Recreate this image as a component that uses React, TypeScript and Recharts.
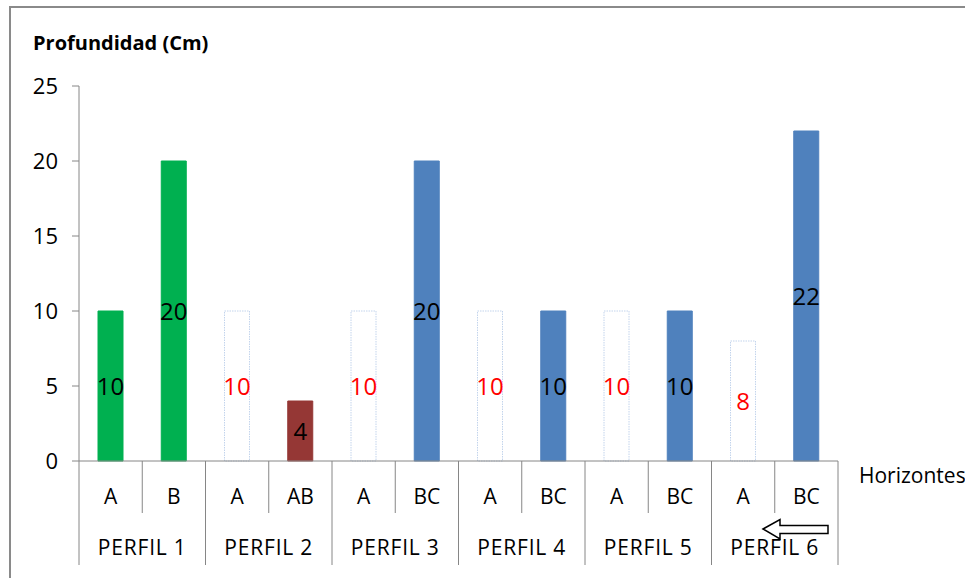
import React from 'react';
import { BarChart, Bar, XAxis, YAxis, Cell, LabelList } from 'recharts';

const horizontes = ['A', 'B', 'A', 'AB', 'A', 'BC', 'A', 'BC', 'A', 'BC', 'A', 'BC'];
const perfiles = ['PERFIL 1', 'PERFIL 2', 'PERFIL 3', 'PERFIL 4', 'PERFIL 5', 'PERFIL 6'];
const profundidad = [10, 20, 10, 4, 10, 20, 10, 10, 10, 10, 8, 22];
const tipoBarra = ['verde', 'verde', 'vacia', 'rojo', 'vacia', 'azul', 'vacia', 'azul', 'vacia', 'azul', 'vacia', 'azul'];
const yTicks = [0, 5, 10, 15, 20, 25];

const estilos: Record<string, { fill: string; stroke: string; dash?: string; label: string }> = {
  verde: { fill: '#00B050', stroke: '#00B050', label: '#000000' },
  rojo: { fill: '#953735', stroke: '#953735', label: '#000000' },
  azul: { fill: '#4F81BD', stroke: '#4F81BD', label: '#000000' },
  vacia: { fill: '#FFFFFF', stroke: '#C3D4EC', dash: '1.5 1', label: '#FF0000' },
};

const data = horizontes.map((h, i) => ({
  key: `${i}`,
  horizonte: h,
  perfil: perfiles[Math.floor(i / 2)],
  valor: profundidad[i],
  tipo: tipoBarra[i],
}));

const FONT = '"Open Sans", sans-serif';
const AXIS = '#868686';
const W = 965;
const H = 578;
const PLOT_LEFT = 79;
const PLOT_RIGHT = 838;
const PLOT_TOP = 86;
const PLOT_BOTTOM = 461;
const BAND = (PLOT_RIGHT - PLOT_LEFT) / data.length;

// two-level category axis: horizon on top, profile grouped below
const CategoryTick = (props: any) => {
  const { x, index } = props;
  const d = data[index];
  if (!d) return null;
  const left = x - BAND / 2;
  const right = x + BAND / 2;
  const y0 = PLOT_BOTTOM;
  return (
    <g>
      <line x1={left} x2={left} y1={y0} y2={index % 2 === 0 ? 565 : 513} stroke={AXIS} strokeWidth={1} />
      {index === data.length - 1 && (
        <line x1={right} x2={right} y1={y0} y2={565} stroke={AXIS} strokeWidth={1} />
      )}
      <text x={x} y={504} textAnchor="middle" fontSize={21} fontFamily={FONT} fill="#000">
        {d.horizonte}
      </text>
      {index % 2 === 1 && (
        <text x={left} y={555} textAnchor="middle" fontSize={21} letterSpacing={0.8} fontFamily={FONT} fill="#000">
          {d.perfil}
        </text>
      )}
    </g>
  );
};

const ValueLabel = (props: any) => {
  const { x, y, width, height, value, index } = props;
  const d = data[index];
  return (
    <text
      x={x + width / 2}
      y={y + height / 2}
      dy="0.36em"
      textAnchor="middle"
      fontSize={24}
      fontFamily={FONT}
      fill={estilos[d.tipo].label}
    >
      {value}
    </text>
  );
};

export default function App() {
  return (
    <div style={{ position: 'absolute', left: 0, top: 0, width: W, height: H, background: '#fff', overflow: 'hidden' }}>
      <div
        style={{
          position: 'absolute',
          left: 9,
          top: 6,
          right: -10,
          bottom: -10,
          borderTop: '2px solid #8a8a8a',
          borderLeft: '2px solid #8a8a8a',
        }}
      />
      <BarChart
        width={W}
        height={H}
        data={data}
        margin={{ top: PLOT_TOP, right: W - PLOT_RIGHT, bottom: 7, left: PLOT_LEFT - 60 }}
        barCategoryGap={0}
      >
        <YAxis
          width={60}
          domain={[0, 25]}
          ticks={yTicks}
          interval={0}
          axisLine={{ stroke: AXIS }}
          tickLine={{ stroke: AXIS }}
          tickSize={7}
          tickMargin={14}
          tick={{ fontSize: 22, fontFamily: FONT, fill: '#000' }}
        />
        <XAxis
          dataKey="key"
          height={H - PLOT_BOTTOM - 7}
          interval={0}
          axisLine={{ stroke: AXIS }}
          tickLine={false}
          tick={<CategoryTick />}
        />
        <Bar dataKey="valor" barSize={25} isAnimationActive={false}>
          {data.map((d, i) => (
            <Cell
              key={`cell-${i}`}
              fill={estilos[d.tipo].fill}
              stroke={estilos[d.tipo].stroke}
              strokeDasharray={estilos[d.tipo].dash}
              strokeWidth={1}
            />
          ))}
          <LabelList dataKey="valor" content={<ValueLabel />} />
        </Bar>
      </BarChart>
      <svg width={W} height={H} style={{ position: 'absolute', left: 0, top: 0, pointerEvents: 'none' }}>
        <text x={33} y={50} fontSize={20} fontWeight="bold" fontFamily={FONT} fill="#000">
          Profundidad (Cm)
        </text>
        <text x={859} y={483} fontSize={21} fontFamily={FONT} fill="#000">
          Horizontes
        </text>
        <polygon
          points="763,529 780,519.5 780,525.5 828,525.5 828,533.5 780,533.5 780,539"
          fill="#fff"
          stroke="#000"
          strokeWidth={1.5}
        />
      </svg>
    </div>
  );
}
